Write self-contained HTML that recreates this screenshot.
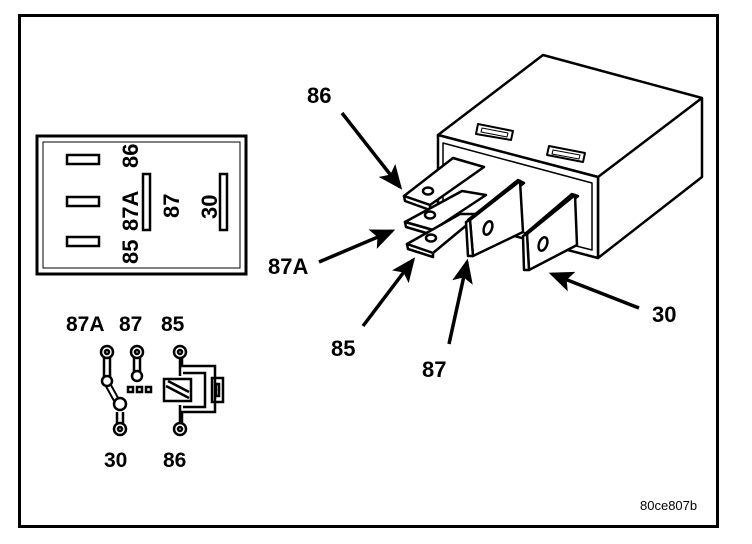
<!DOCTYPE html>
<html><head><meta charset="utf-8"><style>
html,body{margin:0;padding:0;background:#fff}
svg{display:block}
text{font-family:"Liberation Sans",sans-serif;font-weight:bold;fill:#000}
</style></head><body>
<svg width="752" height="544" viewBox="0 0 752 544" xmlns="http://www.w3.org/2000/svg">
<rect x="19.5" y="15.5" width="698" height="511" fill="#fff" stroke="#000" stroke-width="3"/>

<!-- left pin box -->
<rect x="37" y="136" width="209" height="138" fill="#fff" stroke="#000" stroke-width="3"/>
<rect x="43" y="142" width="197" height="126" fill="none" stroke="#000" stroke-width="1"/>
<g fill="#fff" stroke="#000" stroke-width="2.5">
<rect x="67" y="155" width="32" height="9"/>
<rect x="67" y="197" width="32" height="9"/>
<rect x="67" y="237" width="32" height="9"/>
<rect x="143" y="174" width="7" height="56"/>
<rect x="220" y="174" width="7" height="56"/>
</g>
<g font-size="22">
<text transform="translate(138,264) rotate(-90)">85</text>
<text transform="translate(138,231) rotate(-90)">87A</text>
<text transform="translate(138,168) rotate(-90)">86</text>
<text transform="translate(179,218) rotate(-90)">87</text>
<text transform="translate(217,219) rotate(-90)">30</text>
</g>

<!-- schematic -->
<g font-size="21">
<text x="66" y="331">87A</text>
<text x="119" y="331">87</text>
<text x="161" y="331">85</text>
<text x="104" y="467">30</text>
<text x="163" y="467">86</text>
</g>
<g fill="none" stroke="#000" stroke-width="2.5">
<path d="M104,357 V377 M110,357 V377 M134,357 V373 M140,357 V373"/>
<path d="M117,412 V423 M123,412 V423"/>
<path d="M107,383 L118,403" stroke-width="7"/>
<path d="M107,383 L118,403" stroke="#fff" stroke-width="3"/>
<circle cx="107" cy="352" r="6"/><circle cx="107" cy="352" r="2"/>
<circle cx="137" cy="352" r="6"/><circle cx="137" cy="352" r="2"/>
<circle cx="180" cy="352" r="6"/><circle cx="180" cy="352" r="2"/>
<circle cx="120" cy="429" r="6"/><circle cx="120" cy="429" r="2"/>
<circle cx="180" cy="429" r="6"/><circle cx="180" cy="429" r="2"/>
<circle cx="107" cy="381" r="5" fill="#fff"/>
<circle cx="137" cy="376" r="5" fill="#fff"/>
<circle cx="120" cy="404" r="6" fill="#fff"/>
<rect x="128" y="387" width="5" height="5"/><rect x="137" y="387" width="5" height="5"/><rect x="146" y="387" width="5" height="5"/>
<path d="M180,358 V376 M180,405 V423"/>
<path d="M182,358 V366 H215 V412 H182 V423"/>
<path d="M183,373 H205 V407 H183"/>
<rect x="164" y="379" width="27" height="22"/>
<path d="M166,386 L189,398 M168,381 L189,392"/>
<rect x="212" y="378" width="11" height="24"/>
<rect x="216" y="384" width="3" height="12"/>
</g>

<!-- relay body -->
<g fill="#fff" stroke="#000" stroke-width="2.5" stroke-linejoin="round">
<path d="M438,135 L543,55 L702,98 L702,177 L598,258 L598,177 Z"/>
<path d="M438,135 L598,177 L598,258 L438,216 Z"/>
<path d="M598,177 L702,98"/>
<path d="M443,143 L592,183 L592,250 L443,212 Z" stroke-width="1.5"/>
<path d="M478,124 L513,131 L511,140 L476,134 Z" stroke-width="2"/>
<path d="M482,128 L508,133 L507,137 L481,132 Z" stroke-width="1"/>
<path d="M549,146 L585,153 L583,162 L547,155 Z" stroke-width="2"/>
<path d="M553,150 L580,155 L579,159 L552,154 Z" stroke-width="1"/>
</g>
<!-- small tabs -->
<g fill="#fff" stroke="#000" stroke-width="2.5" stroke-linejoin="round">
<path d="M453,158 L484,167 L430,205 L404,196 Z"/>
<path d="M404,196 L430,205 L430,210 L405,201 Z"/>
<ellipse cx="428" cy="191" rx="5" ry="3.5"/>
<path d="M462,191 L486,195 L433,230 L405,222 Z"/>
<path d="M405,222 L433,230 L433,235 L406,227 Z"/>
<ellipse cx="430" cy="215" rx="5" ry="3.5"/>
<path d="M460,214 L480,214 L433,253 L407,244 Z"/>
<path d="M407,244 L433,253 L433,257 L408,249 Z"/>
<ellipse cx="431" cy="238" rx="5" ry="3.5"/>
<!-- terminal 87 -->
<path d="M468,220 L518,180 L524,183 L474,223 Z"/>
<path d="M470,220 L520,181 L523,232 L473,256 Z"/>
<path d="M466,222 L470,220 L473,256 L468,256 Z"/>
<ellipse cx="488" cy="228" rx="4" ry="7" transform="rotate(20 488 228)"/>
<!-- terminal 30 -->
<path d="M525,234 L572,194 L578,196 L531,236 Z"/>
<path d="M527,234 L575,195 L577,245 L529,270 Z"/>
<path d="M523,236 L527,234 L529,270 L524,270 Z"/>
<ellipse cx="543" cy="244" rx="4" ry="7" transform="rotate(20 543 244)"/>
</g>

<!-- arrows -->
<defs><marker id="a" markerWidth="7" markerHeight="6" refX="6" refY="3" orient="auto"><path d="M0,0 L7,3 L0,6 L1.5,3 Z" fill="#000"/></marker></defs>
<g stroke="#000" stroke-width="3.5" fill="none" marker-end="url(#a)">
<path d="M342,113 L400,187"/>
<path d="M319,262 L392,231"/>
<path d="M363,326 L413,260"/>
<path d="M449,344 L467,262"/>
<path d="M639,308 L552,274"/>
</g>
<g font-size="22">
<text x="307" y="103">86</text>
<text x="268" y="274">87A</text>
<text x="331" y="356">85</text>
<text x="422" y="377">87</text>
<text x="652" y="322">30</text>
</g>
<text x="640" y="510" font-size="13" style="font-weight:normal">80ce807b</text>
</svg>
</body></html>
